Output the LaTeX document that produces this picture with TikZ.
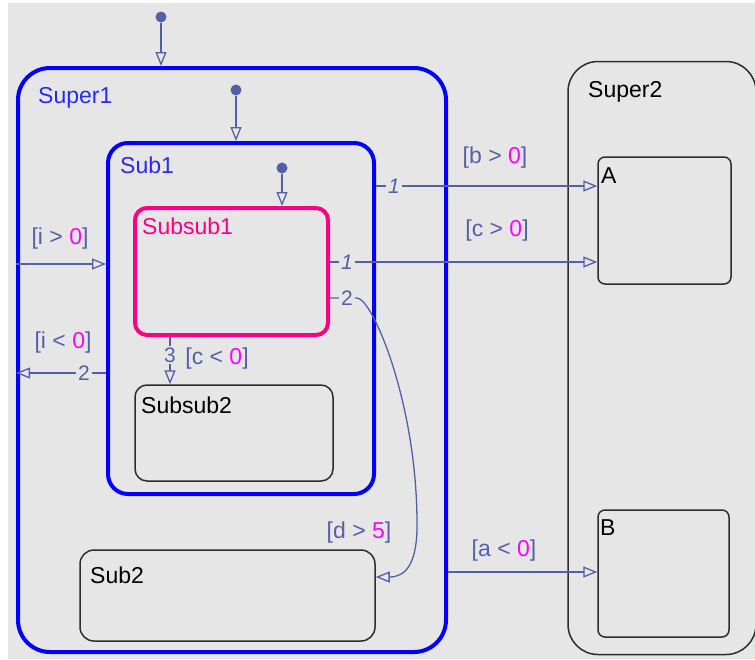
\documentclass[tikz,border=0pt]{standalone}
\usepackage{fontspec}
\setmainfont{Liberation Sans}
\usetikzlibrary{arrows.meta}
\definecolor{bg}{RGB}{230,230,230}
\definecolor{sfblue}{RGB}{0,0,255}
\definecolor{sfbluetext}{RGB}{40,40,255}
\definecolor{sfpink}{RGB}{250,0,130}
\definecolor{sfgray}{RGB}{45,45,45}
\definecolor{sftrans}{RGB}{85,95,165}
\definecolor{sfmag}{RGB}{255,0,255}
\begin{document}
\begin{tikzpicture}[x=1pt,y=-1pt,
  every node/.style={font=\fontsize{23}{27}\selectfont},
  statebase/.style={draw, rectangle, inner sep=0pt},
  bluestate/.style={statebase, draw=sfblue, line width=4pt},
  pinkstate/.style={statebase, draw=sfpink, line width=4pt},
  plainstate/.style={statebase, draw=sfgray, line width=1.5pt},
  trans/.style={draw=sftrans, line width=1.3pt,
    -{Triangle[open,length=14pt,width=11pt,line width=1.3pt]}},
  dotnode/.style={circle, fill=sftrans, inner sep=0pt, minimum size=11pt},
  guard/.style={text=sftrans, anchor=base, inner sep=0pt},
  prio/.style={text=sftrans, fill=bg, inner sep=2pt, font=\fontsize{21}{25}\selectfont},
  slabel/.style={anchor=base west, inner sep=0pt}
]
\useasboundingbox (0,0) rectangle (755,659);
\fill[bg] (8,3) rectangle (755,659);

% states
\node[bluestate, rounded corners=32pt, minimum width=428pt, minimum height=584pt] (Super1) at (232,360) {};
\node[bluestate, rounded corners=20pt, minimum width=266pt, minimum height=351pt] (Sub1) at (241,318.5) {};
\node[pinkstate, rounded corners=12pt, minimum width=193pt, minimum height=127pt] (Subsub1) at (231.5,271.5) {};
\node[plainstate, rounded corners=12pt, minimum width=198pt, minimum height=96pt] (Subsub2) at (234,433) {};
\node[plainstate, rounded corners=14pt, minimum width=295pt, minimum height=91pt] (Sub2) at (227.5,595.5) {};
\begin{scope}
\clip (0,0) rectangle (755,659);
\node[plainstate, rounded corners=30pt, minimum width=188pt, minimum height=593pt] (Super2) at (662,358) {};
\end{scope}
\node[plainstate, rounded corners=7pt, minimum width=133pt, minimum height=127pt] (A) at (664.5,220.5) {};
\node[plainstate, rounded corners=7pt, minimum width=131pt, minimum height=127pt] (B) at (663.5,573.5) {};

% state labels
\node[slabel, text=sfbluetext] (lSuper1) at (38,103) {Super1};
\node[slabel, text=sfbluetext] (lSub1) at (120,173) {Sub1};
\node[slabel, text=sfpink] (lSubsub1) at (142,234) {Subsub1};
\node[slabel, text=black] (lSubsub2) at (141,413) {Subsub2};
\node[slabel, text=black] (lSub2) at (90,583) {Sub2};
\node[slabel, text=black] (lSuper2) at (588,97) {Super2};
\node[slabel, text=black] (lA) at (601,183) {A};
\node[slabel, text=black] (lB) at (600,535) {B};

% helper coordinates
\coordinate (yb) at (0,186);
\coordinate (yc) at (0,262);
\coordinate (yd) at (0,298);
\coordinate (yi) at (0,264);
\coordinate (yj) at (0,373);
\coordinate (ya) at (0,572);
\coordinate (ye) at (0,577);
\coordinate (x3) at (170,0);
\coordinate (c2) at (357,298);

% default transitions
\node[dotnode] (d1) at (161,17) {};
\draw[trans] (d1) -- (d1 |- Super1.north);
\node[dotnode] (d2) at (236,90) {};
\draw[trans] (d2) -- (d2 |- Sub1.north);
\node[dotnode] (d3) at (282,168) {};
\draw[trans] (d3) -- (d3 |- Subsub1.north);

% transitions
\draw[trans] (Sub1.east |- yb) -- (A.west |- yb);
\node[prio] (p1) at (394,186) {\itshape 1};
\node[guard] (gb) at (495,163) {[b > {\color{sfmag}0}]};

\draw[trans] (Subsub1.east |- yc) -- (A.west |- yc);
\node[prio] (p2) at (347,262) {\itshape 1};
\node[guard] (gc) at (497,236) {[c > {\color{sfmag}0}]};

\draw[trans] (Subsub1.east |- yd) -- (c2) .. controls (372,298) and (416,400) .. (417,520)
  .. controls (418,565) and (405,577) .. (Sub2.east |- ye);
\node[prio] (p3) at (347,298) {2};
\node[guard] (gd) at (359,538) {[d > {\color{sfmag}5}]};

\draw[trans] (Super1.west |- yi) -- (Sub1.west |- yi);
\node[guard] (gi1) at (60,244) {[i > {\color{sfmag}0}]};

\draw[trans] (Sub1.west |- yj) -- (Super1.west |- yj);
\node[prio] (p4) at (84,373) {2};
\node[guard] (gi2) at (63,348) {[i < {\color{sfmag}0}]};

\draw[trans] (Subsub1.south -| x3) -- (Subsub2.north -| x3);
\node[prio] (p5) at (170,355) {3};
\node[guard] (gc2) at (217,364) {[c < {\color{sfmag}0}]};

\draw[trans] (Super1.east |- ya) -- (B.west |- ya);
\node[guard] (ga) at (504,556) {[a < {\color{sfmag}0}]};
\end{tikzpicture}
\end{document}
